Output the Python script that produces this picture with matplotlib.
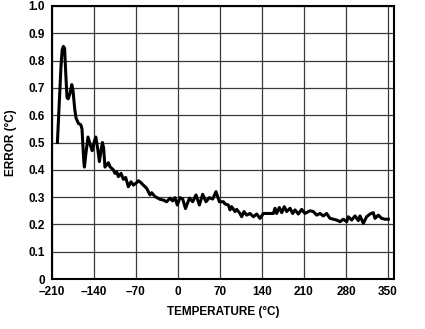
import matplotlib
matplotlib.use("Agg")
import matplotlib.pyplot as plt

temperature = [
    -201, -195, -193, -191, -189, -187, -185, -183, -180, -177, -175, -172, -170,
    -166, -162, -160, -157, -156, -154, -150, -146, -143, -140, -137, -134, -131,
    -129, -126, -124, -121.7, -118.9, -116, -113.3, -107.8, -105, -102.2, -99.4,
    -95, -91, -87.2, -82.8, -78.3, -74.4, -68.9, -66, -63.3, -57.8, -52.2, -46.7,
    -43.9, -38.3, -30, -24.4, -18.9, -13.3, -8.9, -5, -1.1, 3.3, 7.8, 12.5, 19,
    24.4, 30, 35.6, 41.1, 46.7, 52.2, 57.8, 63.3, 68.9, 75.6, 78.3, 83.9, 86.7,
    89.4, 95, 97.8, 103.3, 106.1, 110, 114.4, 120, 125.6, 131.1, 136.7, 142.2,
    158.9, 161.7, 164.4, 168.9, 172.8, 177.2, 181.1, 186.7, 191.1, 195, 200.6,
    206.1, 211.7, 217.2, 220, 225.5, 231.1, 236.6, 242.2, 247.7, 253.3, 258.9,
    264.4, 270, 275.5, 281.1, 283.9, 289.4, 295, 300.5, 303.3, 308.9, 314.4,
    320, 325.5, 328.3, 333.9, 339.4, 345, 350.5,
]
error = [
    0.50, 0.78, 0.84, 0.852, 0.845, 0.75, 0.665, 0.66, 0.68, 0.712, 0.69, 0.62, 0.59,
    0.57, 0.565, 0.55, 0.43, 0.41, 0.45, 0.52, 0.49, 0.47, 0.50, 0.52, 0.48, 0.43,
    0.46, 0.50, 0.48, 0.41, 0.418, 0.426, 0.411, 0.40, 0.387, 0.393, 0.375,
    0.387, 0.365, 0.372, 0.338, 0.356, 0.344, 0.353, 0.36, 0.356, 0.344, 0.332, 0.308,
    0.316, 0.302, 0.292, 0.289, 0.283, 0.296, 0.286, 0.298, 0.271, 0.298, 0.293, 0.258, 0.296,
    0.283, 0.308, 0.271, 0.31, 0.283, 0.298, 0.293, 0.32, 0.283, 0.283, 0.275, 0.271, 0.253,
    0.265, 0.247, 0.255, 0.24, 0.228, 0.247, 0.234, 0.24, 0.228, 0.238, 0.222, 0.24,
    0.24, 0.259, 0.24, 0.262, 0.243, 0.265, 0.247, 0.259, 0.24, 0.253, 0.238,
    0.255, 0.24, 0.247, 0.25, 0.247, 0.234, 0.24, 0.231, 0.24, 0.222, 0.219,
    0.216, 0.21, 0.219, 0.21, 0.228, 0.216, 0.231, 0.214, 0.231, 0.204, 0.228,
    0.238, 0.243, 0.222, 0.234, 0.222, 0.219, 0.219,
]

x_ticks = [-210, -140, -70, 0, 70, 140, 210, 280, 350]
x_tick_labels = ["\u2013210", "\u2013140", "\u201370", "0", "70", "140", "210", "280", "350"]
y_ticks = [0, 0.1, 0.2, 0.3, 0.4, 0.5, 0.6, 0.7, 0.8, 0.9, 1.0]
y_tick_labels = ["0", "0.1", "0.2", "0.3", "0.4", "0.5", "0.6", "0.7", "0.8", "0.9", "1.0"]

plt.rcParams["font.family"] = ["Liberation Sans", "DejaVu Sans"]

fig = plt.figure(figsize=(4.25, 3.29), dpi=100)
ax = fig.add_axes([52 / 425, (329 - 279) / 329, (394 - 52) / 425, (279 - 6) / 329])

ax.plot(temperature, error, color="black", linewidth=2.2, solid_joinstyle="round")

ax.set_xlim(-210, 360)
ax.set_ylim(0, 1.0)
ax.set_xticks(x_ticks)
ax.set_xticklabels(x_tick_labels)
ax.set_yticks(y_ticks)
ax.set_yticklabels(y_tick_labels)
ax.grid(True, color="#3a3a3a", linewidth=0.9)
ax.set_axisbelow(True)
ax.tick_params(length=0, pad=5, labelsize=8.5)
for lab in ax.get_xticklabels() + ax.get_yticklabels():
    lab.set_fontweight("bold")
for sp in ax.spines.values():
    sp.set_linewidth(1.5)
    sp.set_color("black")

ax.set_xlabel("TEMPERATURE (°C)", fontsize=8.5, fontweight="bold", labelpad=6)
ax.set_ylabel("ERROR (°C)", fontsize=8.5, fontweight="bold", labelpad=8)

fig.savefig("out.png", dpi=100)
